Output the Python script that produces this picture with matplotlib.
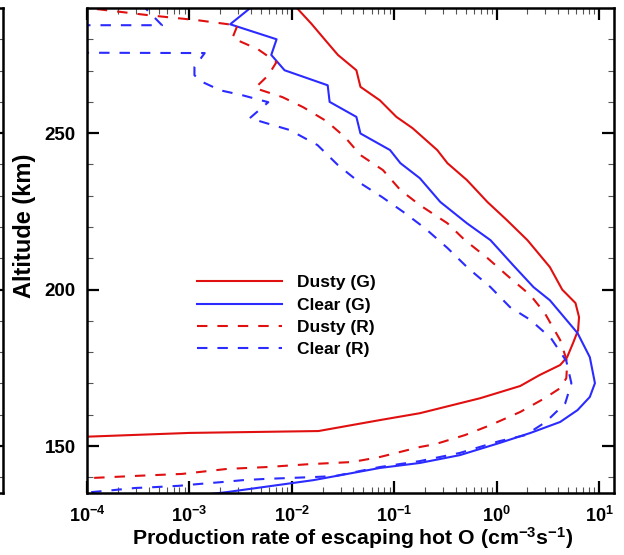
import numpy as np
import matplotlib
matplotlib.use("Agg")
import matplotlib.pyplot as plt
from matplotlib.ticker import FixedLocator, MultipleLocator, LogLocator, NullFormatter

plt.rcParams['font.family'] = ['Liberation Sans', 'DejaVu Sans']
plt.rcParams['font.weight'] = 'bold'
plt.rcParams['mathtext.fontset'] = 'custom'
plt.rcParams['mathtext.rm'] = 'Liberation Sans:bold'
plt.rcParams['mathtext.bf'] = 'Liberation Sans:bold'
plt.rcParams['mathtext.it'] = 'Liberation Sans:bold'
plt.rcParams['mathtext.sf'] = 'Liberation Sans:bold'

# Production rate of escaping hot O (cm^-3 s^-1) vs altitude (km)
dusty_g_alt = [290, 285, 279.2, 275, 270.1, 264.8, 260.5, 255.2, 251.6, 244.6, 240.4, 235, 228,
               222.2, 215.8, 207.2, 200, 195.7, 191.2, 187, 182.9, 178.4, 175.9, 172.7, 169.2,
               165.3, 160.5, 158.3, 154.8, 154.2, 153.0, 152.7]
dusty_g_rate = [1.12e-2, 1.55e-2, 2.19e-2, 2.82e-2, 4.27e-2, 4.68e-2, 7.24e-2, 0.105, 0.151, 0.263,
                0.331, 0.513, 0.813, 1.26, 2.0, 3.31, 4.37, 5.89, 6.38, 6.24, 5.57, 4.88, 4.17,
                2.63, 1.70, 0.692, 0.178, 0.0724, 0.0182, 1.0e-3, 1.0e-4, 5.0e-5]

clear_g_alt = [291, 289.9, 284.8, 280, 275, 270.1, 265.3, 260, 255.2, 249.9, 244.6, 240.4, 235.6,
               228, 221.2, 215.8, 207.8, 200.8, 196.6, 186.1, 178.4, 170.1, 165.7, 161.5, 157.7,
               154.2, 151, 147.1, 144.6, 143, 139.1, 135.3, 132]
clear_g_rate = [4.3e-3, 3.9e-3, 2.5e-3, 7.1e-3, 6.3e-3, 8.5e-3, 2.24e-2, 2.34e-2, 4.27e-2, 4.68e-2,
                9.1e-2, 0.115, 0.178, 0.282, 0.513, 0.871, 1.45, 2.29, 3.31, 6.17, 8.13, 9.12,
                8.13, 6.17, 4.17, 2.14, 1.07, 0.437, 0.178, 0.0724, 0.0162, 2.34e-3, 3.2e-4]

dusty_r_alt = [290.2, 289.6, 287.7, 286.1, 284.8, 284.5, 280.4, 276.8, 272.7, 268.5, 264.4, 261.5,
               258.3, 253.8, 248.7, 243, 238.2, 231.8, 227, 221.2, 215.8, 210.1, 204.3, 198.2,
               192.5, 183.9, 176.8, 171.7, 168.5, 165.3, 160.9, 156.7, 153.5, 150.6, 149.7,
               146.5, 144.9, 144.2, 143.3, 142.7, 141.1, 140.5, 139.8, 139.6]
dusty_r_rate = [7.9e-5, 1.29e-4, 3.98e-4, 1.2e-3, 2.4e-3, 2.95e-3, 2.63e-3, 4.68e-3, 7.08e-3,
                5.89e-3, 4.37e-3, 8.13e-3, 1.29e-2, 2.19e-2, 3.31e-2, 4.68e-2, 7.76e-2, 0.115,
                0.178, 0.331, 0.490, 0.813, 1.29, 2.14, 2.95, 4.17, 4.90, 4.79, 4.17, 2.95, 1.70,
                0.871, 0.490, 0.251, 0.178, 0.0724, 0.0389, 0.0145, 5.75e-3, 2.34e-3, 8.5e-4,
                3.16e-4, 1.12e-4, 7.9e-5]

clear_r_alt = [291.3, 290, 284.5, 284.5, 284.3, 276, 275.7, 275.6, 271.1, 268.5, 266.3, 263.7,
               262.1, 259.9, 254.8, 253.5, 251, 246.2, 239.8, 234, 229.6, 224.8, 219.6, 213.3,
               206.9, 200.8, 194.4, 190.3, 184.5, 177.2, 170.1, 163.7, 157.7, 153.5, 151.6,
               147.8, 145.2, 143.3, 140.4, 140.1, 139.8, 139.5, 139.1, 138.5, 137.9, 137.3,
               136.9, 136.6, 135.9, 135.3, 135.1]
clear_r_rate = [3.3e-4, 3.7e-4, 5.4e-4, 1.0e-4, 3.2e-5, 3.2e-5, 1.0e-4, 1.41e-3, 1.12e-3, 1.12e-3,
                1.35e-3, 2.0e-3, 3.31e-3, 5.89e-3, 3.89e-3, 5.25e-3, 9.55e-3, 1.78e-2, 2.82e-2,
                4.68e-2, 7.59e-2, 0.123, 0.200, 0.331, 0.525, 0.871, 1.35, 2.14, 3.39, 4.79, 5.37,
                4.68, 3.02, 1.91, 1.07, 0.437, 0.178, 0.0724, 0.0263, 0.0162, 9.55e-3, 5.5e-3,
                3.31e-3, 2.09e-3, 1.26e-3, 7.9e-4, 4.7e-4, 2.95e-4, 1.78e-4, 1.12e-4, 7.9e-5]

x_ticks = [1e-4, 1e-3, 1e-2, 1e-1, 1e0, 1e1]
x_ticklabels = [r'$10^{\mathsf{-4}}$', r'$10^{\mathsf{-3}}$', r'$10^{\mathsf{-2}}$',
                r'$10^{\mathsf{-1}}$', r'$10^{\mathsf{0}}$', r'$10^{\mathsf{1}}$']
y_ticks = [150, 200, 250]

red = '#e01010'
blue = '#2b2bff'
dash = (0, (5.0, 4.8))

fig = plt.figure(figsize=(6.24, 5.55), dpi=100)
W, H = 624, 555
ax = fig.add_axes([87 / W, (H - 493) / H, (614 - 87) / W, (493 - 8) / H])

ax.plot(dusty_g_rate, dusty_g_alt, color=red, lw=1.5, label='Dusty (G)')
ax.plot(clear_g_rate, clear_g_alt, color=blue, lw=1.5, label='Clear (G)')
ax.plot(dusty_r_rate, dusty_r_alt, color=red, lw=1.5, ls=dash, label='Dusty (R)')
ax.plot(clear_r_rate, clear_r_alt, color=blue, lw=1.5, ls=dash, label='Clear (R)')

ax.set_xscale('log')
ax.set_xlim(1e-4, 14.0)
ax.set_ylim(135, 290)

ax.set_xticks(x_ticks)
ax.set_xticklabels(x_ticklabels, fontsize=13)
ax.xaxis.set_minor_locator(LogLocator(base=10, subs=np.arange(2, 10)))
ax.xaxis.set_minor_formatter(NullFormatter())
ax.yaxis.set_major_locator(FixedLocator(y_ticks))
ax.yaxis.set_minor_locator(MultipleLocator(10))
ax.tick_params(axis='y', labelsize=13.5)

ax.tick_params(which='both', direction='in', top=True, right=True)
ax.tick_params(which='major', length=8.5, width=1.6, color='black')
ax.tick_params(which='minor', length=4, width=0.8, color='#555555')
ax.tick_params(axis='y', pad=8)
ax.tick_params(axis='x', pad=9)
for s in ax.spines.values():
    s.set_linewidth(1.8)

ax.set_xlabel(r'Production rate of escaping hot O (cm$^{\mathsf{-3}}$s$^{\mathsf{-1}}$)',
              fontsize=15.3, fontweight='bold')
ax.xaxis.set_label_coords(0.505, -0.066)
ax.set_ylabel('Altitude (km)', fontsize=17, fontweight='bold')
ax.yaxis.set_label_coords(-0.097, 0.55)

leg = ax.legend(loc='upper left', bbox_to_anchor=((197 - 87) / 527, (493 - 275) / 485),
                frameon=False, fontsize=12.5, handlelength=4.9, handletextpad=0.85,
                labelspacing=0.42, borderpad=0, borderaxespad=0)
for t in leg.get_texts():
    t.set_fontweight('bold')

# right edge of the neighbouring panel, cut by the crop
ax2 = fig.add_axes([-0.5, (H - 493) / H, 0.5 + 3 / W, (493 - 8) / H])
ax2.set_ylim(135, 290)
ax2.set_xticks([])
ax2.yaxis.set_major_locator(FixedLocator(y_ticks))
ax2.yaxis.set_minor_locator(MultipleLocator(10))
ax2.tick_params(which='both', direction='in', left=False, right=True,
                labelleft=False, labelright=False)
ax2.tick_params(which='major', length=8.5, width=1.6)
ax2.tick_params(which='minor', length=4, width=0.8, color='#555555')
for s in ax2.spines.values():
    s.set_linewidth(1.8)

fig.savefig('out.png', dpi=100)
